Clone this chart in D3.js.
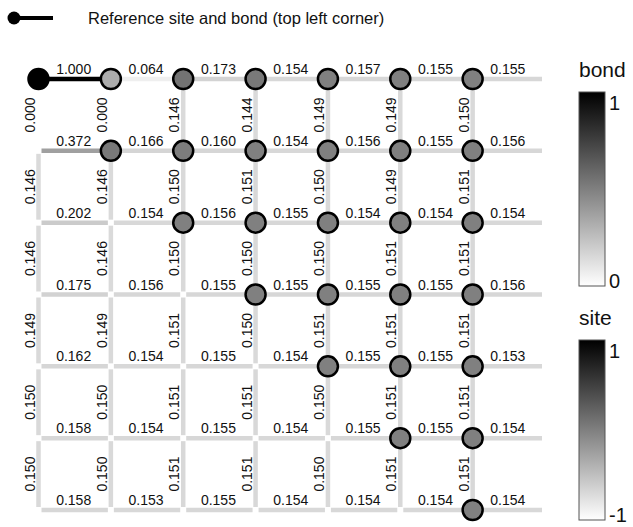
<!DOCTYPE html>
<html>
<head>
<meta charset="utf-8">
<script src="https://cdn.jsdelivr.net/npm/d3@7"></script>
<style>
  body { margin: 0; background: #fff; }
  text { font-family: "Liberation Sans", Arial, sans-serif; }
</style>
</head>
<body>
<div id="visContainer"></div>
<script>
'use strict';

// horizontal bond values, bond from site (col, row) to (col+1, row)
var hBonds = [
  [1.000, 0.064, 0.173, 0.154, 0.157, 0.155, 0.155],
  [0.372, 0.166, 0.160, 0.154, 0.156, 0.155, 0.156],
  [0.202, 0.154, 0.156, 0.155, 0.154, 0.154, 0.154],
  [0.175, 0.156, 0.155, 0.155, 0.155, 0.155, 0.156],
  [0.162, 0.154, 0.155, 0.154, 0.155, 0.155, 0.153],
  [0.158, 0.154, 0.155, 0.154, 0.155, 0.155, 0.154],
  [0.158, 0.153, 0.155, 0.154, 0.154, 0.154, 0.154]
];
// vertical bond values, bond from site (col, row) to (col, row+1)
var vBonds = [
  [0.000, 0.000, 0.146, 0.144, 0.149, 0.149, 0.150],
  [0.146, 0.146, 0.150, 0.151, 0.150, 0.149, 0.151],
  [0.146, 0.146, 0.150, 0.150, 0.150, 0.151, 0.151],
  [0.149, 0.149, 0.151, 0.150, 0.151, 0.151, 0.151],
  [0.150, 0.150, 0.151, 0.151, 0.150, 0.151, 0.151],
  [0.150, 0.150, 0.151, 0.151, 0.150, 0.151, 0.151]
];
// site values (null = site not drawn)
var sites = [
  [1.00, -0.35, 0.10, 0.05, 0.00, 0.00, 0.00],
  [null, 0.05, 0.02, 0.00, 0.00, 0.00, 0.00],
  [null, null, 0.00, 0.00, 0.00, 0.00, 0.00],
  [null, null, null, 0.00, 0.00, 0.00, 0.00],
  [null, null, null, null, 0.00, 0.00, 0.00],
  [null, null, null, null, null, 0.00, 0.00],
  [null, null, null, null, null, null, 0.00]
];
var bondTicks = [1, 0];
var siteTicks = [1, -1];
var legendText = 'Reference site and bond (top left corner)';

var width = 633;
var height = 527;

var svg = d3.select('#visContainer')
    .append('svg')
    .attr('width', width)
    .attr('height', height);

var x = d3.scaleLinear().domain([0, 7]).range([38.5, 545]);
var y = d3.scaleLinear().domain([0, 6]).range([79, 510]);

// white (0) -> black (1) for bonds, white (-1) -> black (1) for sites
var bondColor = d3.scaleLinear().domain([0, 1]).range(['#ffffff', '#000000']);
var siteColor = d3.scaleLinear().domain([-1, 1]).range(['#ffffff', '#000000']);

// flatten bonds into segments
var bonds = [];
hBonds.forEach(function(row, j) {
  row.forEach(function(v, i) {
    bonds.push({ x1: i, y1: j, x2: i + 1, y2: j, v: v, dir: 'h' });
  });
});
vBonds.forEach(function(row, j) {
  row.forEach(function(v, i) {
    bonds.push({ x1: i, y1: j, x2: i, y2: j + 1, v: v, dir: 'v' });
  });
});

var gap = 3; // shorten each bond a little at both ends
var gBonds = svg.append('g');
gBonds.selectAll('line')
  .data(bonds)
  .enter()
  .append('line')
  .attr('x1', function(d) { return x(d.x1) + (d.dir == 'h' ? gap : 0); })
  .attr('x2', function(d) { return x(d.x2) - (d.dir == 'h' ? gap : 0); })
  .attr('y1', function(d) { return y(d.y1) + (d.dir == 'v' ? gap : 0); })
  .attr('y2', function(d) { return y(d.y2) - (d.dir == 'v' ? gap : 0); })
  .attr('stroke', function(d) { return bondColor(d.v); })
  .attr('stroke-width', 4.5);

// bond labels
gBonds.selectAll('text')
  .data(bonds)
  .enter()
  .append('text')
  .attr('font-size', '14px')
  .attr('fill', '#111')
  .attr('text-anchor', 'middle')
  .attr('transform', function(d) {
    if (d.dir == 'h') {
      return 'translate(' + ((x(d.x1) + x(d.x2)) / 2 - 1) + ',' + (y(d.y1) - 5) + ')';
    }
    return 'translate(' + (x(d.x1) - 4) + ',' + ((y(d.y1) + y(d.y2)) / 2) + ') rotate(-90)';
  })
  .text(function(d) { return d.v.toFixed(3); });

// sites
var siteList = [];
sites.forEach(function(row, j) {
  row.forEach(function(v, i) {
    if (v !== null) siteList.push({ i: i, j: j, v: v });
  });
});
svg.append('g')
  .selectAll('circle')
  .data(siteList)
  .enter()
  .append('circle')
  .attr('cx', function(d) { return x(d.i); })
  .attr('cy', function(d) { return y(d.j); })
  .attr('r', 10)
  .attr('fill', function(d) { return siteColor(d.v); })
  .attr('stroke', '#000')
  .attr('stroke-width', 2.5);

// legend at the top
svg.append('line')
  .attr('x1', 14).attr('x2', 53)
  .attr('y1', 18).attr('y2', 18)
  .attr('stroke', '#000')
  .attr('stroke-width', 4);
svg.append('circle')
  .attr('cx', 14).attr('cy', 18).attr('r', 6.5)
  .attr('fill', '#000');
svg.append('text')
  .attr('x', 88).attr('y', 24)
  .attr('font-size', '16.5px')
  .attr('fill', '#111')
  .text(legendText);

// colour bars
var defs = svg.append('defs');
function addGradient(id) {
  var grad = defs.append('linearGradient')
    .attr('id', id)
    .attr('x1', 0).attr('x2', 0)
    .attr('y1', 0).attr('y2', 1);
  grad.append('stop').attr('offset', '0%').attr('stop-color', '#000');
  grad.append('stop').attr('offset', '100%').attr('stop-color', '#fff');
}
addGradient('gradBond');
addGradient('gradSite');

function colorBar(title, gradId, top, bottom, ticks) {
  var g = svg.append('g');
  var barY = d3.scaleLinear().domain([ticks[0], ticks[1]]).range([top, bottom]);
  g.append('text')
    .attr('x', 579).attr('y', top - 15)
    .attr('font-size', '21px')
    .attr('fill', '#111')
    .text(title);
  g.append('rect')
    .attr('x', 579).attr('y', top)
    .attr('width', 26).attr('height', bottom - top)
    .attr('fill', 'url(#' + gradId + ')')
    .attr('stroke', '#555')
    .attr('stroke-width', 1);
  g.selectAll('.tick')
    .data(ticks)
    .enter()
    .append('text')
    .attr('class', 'tick')
    .attr('x', 609)
    .attr('y', function(d, k) { return k == 0 ? barY(d) + 18 : barY(d) + 2; })
    .attr('font-size', '20px')
    .attr('fill', '#111')
    .text(function(d) { return d; });
}
colorBar('bond', 'gradBond', 92, 286, bondTicks);
colorBar('site', 'gradSite', 340, 520, siteTicks);
</script>
</body>
</html>
